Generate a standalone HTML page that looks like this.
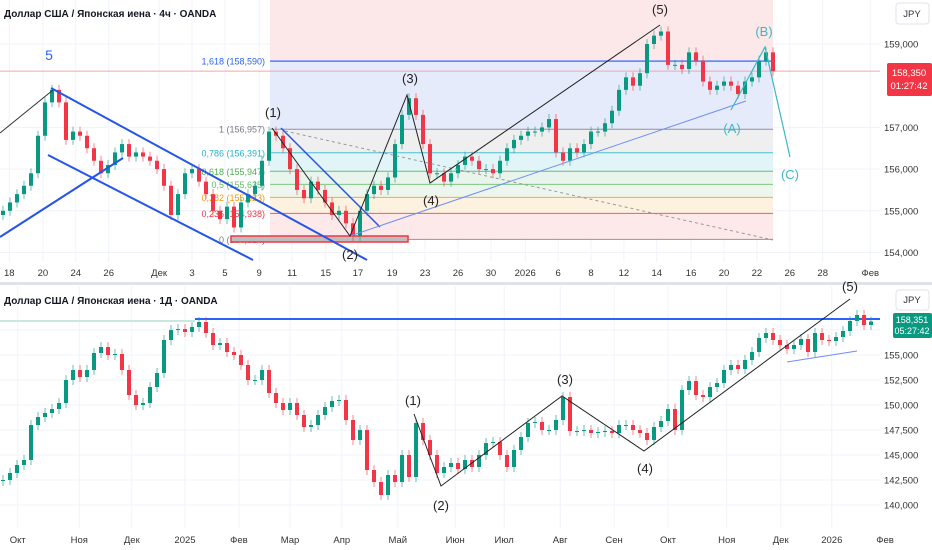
<!DOCTYPE html>
<html><head><meta charset="utf-8"><style>
body{margin:0;width:932px;height:550px;overflow:hidden;background:#fff;font-family:"Liberation Sans","Noto Sans CJK SC",sans-serif}
svg{display:block}
text{font-family:"Liberation Sans","DejaVu Sans",sans-serif}
</style></head><body>
<svg id="c" width="932" height="550"></svg>
<script>
// ---- top pane data (4h, sampled) ----
const topCloses=[155.0,155.2,155.4,155.6,155.9,156.8,157.6,157.9,157.6,156.7,156.9,156.8,156.5,156.2,155.9,156.1,156.4,156.6,156.3,156.4,156.3,156.2,156.0,155.6,154.9,155.4,155.9,156.0,155.7,155.4,155.0,154.8,155.1,154.6,155.2,155.4,155.6,156.2,156.9,156.8,156.5,156.0,155.5,155.3,155.7,155.5,155.2,154.9,155.0,154.7,154.4,155.0,155.4,155.6,155.5,155.8,156.6,157.3,157.7,157.3,156.6,155.9,155.9,155.7,155.9,156.1,156.3,156.2,156.0,156.0,155.9,156.2,156.5,156.7,156.8,156.9,156.9,157.0,157.2,156.4,156.2,156.5,156.4,156.6,156.9,156.9,157.1,157.4,157.9,158.2,158.0,158.3,159.0,159.2,159.3,158.5,158.5,158.4,158.8,158.6,158.1,157.9,158.0,158.1,158.0,157.8,158.1,158.2,158.6,158.8,158.35];
const topPriceTicks=[159,157,156,155,154];
const topPriceLabels=["159,000","157,000","156,000","155,000","154,000"];
const topTimeLabels=["18","20","24","26","Дек","3","5","9","11","15","17","19","23","26","30","2026","6","8","12","14","16","20","22","26","28","Фев"];
const topTimeIdx=[0.9,5.7,10.4,15.1,22.3,27,31.7,36.6,41.3,46.1,50.7,55.6,60.3,65,69.7,74.6,79.3,84,88.7,93.4,98.3,103,107.7,112.4,117.1,123.9];
const fibRatios=["1,618","1","0,786","0,618","0,5","0,382","0,236","0"];
const fibPrices=[158.590,156.957,156.391,155.947,155.635,155.323,154.938,154.314];
// ---- bottom pane data (daily, sampled) ----
const botCloses=[142.5,143.2,144.0,144.5,148.0,148.8,149.2,149.6,150.2,152.5,153.5,152.8,153.5,155.2,155.8,155.0,155.1,153.5,151.0,150.0,150.2,151.8,153.2,156.5,157.5,157.6,157.3,157.8,158.3,157.2,156.0,156.2,155.3,155.0,154.0,152.5,152.5,153.5,151.2,150.2,149.5,150.2,149.0,147.8,148.0,149.0,149.8,150.4,150.5,148.5,146.5,147.5,143.5,142.3,141.0,143.0,142.3,145.0,142.8,148.2,146.5,145.0,143.2,143.8,144.2,143.6,144.5,143.8,145.0,146.2,146.3,145.0,143.8,145.5,146.8,148.2,148.3,147.5,147.5,148.5,150.8,147.4,147.4,147.5,147.2,147.3,147.4,147.2,148.0,148.0,147.5,147.2,146.5,147.8,148.4,149.6,147.5,151.5,152.4,151.0,150.8,151.8,152.2,153.5,154.0,153.6,154.5,155.3,156.7,157.2,156.5,156.0,155.6,156.0,156.6,155.3,157.2,156.5,156.4,156.8,157.4,158.4,159.0,158.0,158.35];
const botPriceTicks=[155,152.5,150,147.5,145,142.5,140];
const botPriceLabels=["155,000","152,500","150,000","147,500","145,000","142,500","140,000"];
const botTimeLabels=["Окт","Ноя","Дек","2025","Фев","Мар","Апр","Май","Июн","Июл","Авг","Сен","Окт","Ноя","Дек","2026","Фев"];
const botTimeIdx=[2.1,10.9,18.4,26,33.7,41,48.4,56.4,64.6,71.6,79.6,87.3,95,103.4,111.1,118.4,126];

const NS="http://www.w3.org/2000/svg";
const svg=document.getElementById('c');
function el(tag,attrs,parent,txt){const e=document.createElementNS(NS,tag);for(const k in attrs)e.setAttribute(k,attrs[k]);if(txt!==undefined)e.textContent=txt;(parent||svg).appendChild(e);return e;}
const STEP=7;
const xi=i=>i*STEP+3;
const y1=p=>44+(159-p)*41.7;
const y2=p=>355+(155-p)*10;
const GREEN="#089981",RED="#f23645";

// ===== TOP PANE =====
const gTop=el('g',{});


// grid
topPriceTicks.forEach(p=>{const l=el('line',{x1:0,x2:880,y1:y1(p),y2:y1(p),stroke:"#f0f3fa"},gTop);});
topTimeIdx.forEach(i=>{const l=el('line',{x1:xi(i),x2:xi(i),y1:0,y2:262,stroke:"#f0f3fa"},gTop);});
// fib zones
const fx0=270,fx1=773;
const zoneFill=["#e6ebfb","#efefef","#e1f4f8","#e8f4ec","#edf6ee","#fdf1e0","#fde9ea"];
const pinkBg=el('rect',{x:fx0,y:0,width:fx1-fx0,height:y1(fibPrices[7]),fill:"#fde8e9"},gTop);

for(let k=0;k<7;k++){const r=el('rect',{x:fx0,y:y1(fibPrices[k]),width:fx1-fx0,height:y1(fibPrices[k+1])-y1(fibPrices[k]),fill:zoneFill[k]},gTop);}
const fibCol=["#2962ff","#787b86","#22b5cc","#4caf50","#66bb6a","#ff9800","#f23645","#787b86"];
fibPrices.forEach((p,k)=>{
 const l=el('line',{x1:fx0,x2:fx1,y1:y1(p),y2:y1(p),stroke:fibCol[k],"stroke-width":k===0?1.5:1,opacity:0.8},gTop);
 
 const t=el('text',{x:265,y:y1(p)+3.5,"text-anchor":"end","font-size":9,fill:fibCol[k]},gTop,fibRatios[k]+" ("+p.toFixed(3).replace('.',',')+")");
 
});
// current price line
const cpl=el('line',{x1:0,x2:880,y1:y1(158.35),y2:y1(158.35),stroke:"#f7a5ab","stroke-width":1},gTop);

// red rect at 0 level
const rr=el('rect',{x:231,y:236,width:177,height:6,fill:"#bdbdbd",stroke:"#f23645","stroke-width":1.5},gTop);

// candles
function candles(closes,yf,g,wick){
 for(let i=0;i<closes.length;i++){
  const c=closes[i],o=i>0?closes[i-1]:c-0.1;
  const up=c>=o,col=up?GREEN:RED;
  const hi=Math.max(o,c)+wick,lo=Math.min(o,c)-wick;
  const w=el('line',{x1:xi(i),x2:xi(i),y1:yf(hi),y2:yf(lo),stroke:col,"stroke-width":1,opacity:0.6},g);
  
  const top=yf(Math.max(o,c)),h=Math.max(1,yf(Math.min(o,c))-top);
  const b=el('rect',{x:xi(i)-2,y:top,width:4,height:h,fill:col},g);
  
 }
}
candles(topCloses,y1,gTop,0.12);
// drawings
function line(g,pts,col,w,name,dash){const l=el('polyline',{points:pts.map(p=>p.join(',')).join(' '),fill:"none",stroke:col,"stroke-width":w,"stroke-dasharray":dash||""},g);return l;}
function label(g,x,y,t,col,fs,name){const e=el('text',{x:x,y:y,"text-anchor":"middle","font-size":fs,fill:col},g,t);}
line(gTop,[[0,133],[53,90]],"#333",1,"trend-line");
line(gTop,[[51,88],[367,260]],"#2455e8",2,"channel-upper");
line(gTop,[[48,155],[253,260]],"#2455e8",2,"channel-lower");
line(gTop,[[0,237],[123,158]],"#2455e8",2,"channel-support");
line(gTop,[[281,128],[380,227]],"#2455e8",1.5,"wave2-channel");
line(gTop,[[285,131],[773,240]],"#999",1,"dashed-trend","3,3");
line(gTop,[[350,236],[746,101]],"#6d8ff5",1,"wave-trendline");
line(gTop,[[272,128],[350,236],[407,95],[430,183],[660,25]],"#222",1,"elliott-impulse");
line(gTop,[[731,110],[765,47],[790,157]],"#3cb8c4",1.2,"abc-correction");
label(gTop,49,60,"5","#2962ff",14,"wave-5-label");
[["(1)",273,117],["(2)",350,259],["(3)",410,83],["(4)",431,205],["(5)",660,14]].forEach(a=>label(gTop,a[1],a[2],a[0],"#222",13,"wave-label"));
[["(A)",732,133],["(B)",764,36],["(C)",790,179]].forEach(a=>label(gTop,a[1],a[2],a[0],"#3cb8c4",13,"abc-label"));
// axes
const ax1=el('rect',{x:880,y:0,width:52,height:282,fill:"#fff"},gTop);
topPriceTicks.forEach((p,k)=>{const t=el('text',{x:884,y:y1(p)+3.5,"font-size":9.5,fill:"#333"},gTop,topPriceLabels[k]);});
topTimeIdx.forEach((idx,k)=>{const t=el('text',{x:xi(idx),y:276,"text-anchor":"middle","font-size":9.5,fill:"#333"},gTop,topTimeLabels[k]);});
const tag1=el('rect',{x:887,y:63,width:45,height:33,fill:"#f23645",rx:2},gTop);
el('text',{x:909,y:76,"text-anchor":"middle","font-size":9.5,fill:"#fff"},gTop,"158,350");
el('text',{x:909,y:89,"text-anchor":"middle","font-size":9.5,fill:"#fff"},gTop,"01:27:42");
const jpy1=el('rect',{x:896,y:3,width:33,height:21,fill:"#fff",stroke:"#e0e3eb",rx:3},gTop);
el('text',{x:912,y:17,"text-anchor":"middle","font-size":9.5,fill:"#333"},gTop,"JPY");
const tt1=el('text',{x:4,y:17,"font-size":10,"font-weight":"bold",fill:"#131722"},gTop,"Доллар США / Японская иена · 4ч · OANDA");


// separator
const sep=el('rect',{x:0,y:282,width:932,height:3,fill:"#e0e3eb"});

// ===== BOTTOM PANE =====
const gBot=el('g',{});


botPriceTicks.concat([157.5]).forEach(p=>{const l=el('line',{x1:0,x2:880,y1:y2(p),y2:y2(p),stroke:"#f0f3fa"},gBot);});
botTimeIdx.forEach(i=>{const l=el('line',{x1:xi(i),x2:xi(i),y1:286,y2:528,stroke:"#f0f3fa"},gBot);});
line(gBot,[[0,321],[195,321]],"#c9e6e0",2,"resistance-line-faint");
line(gBot,[[195,319],[932,319]],"#2962ff",2,"resistance-line");
candles(botCloses,y2,gBot,0.5);
line(gBot,[[414,414],[441,486],[562,396],[644,451],[850,299]],"#222",1,"elliott-impulse-daily");
line(gBot,[[787,362],[857,351]],"#6d8ff5",1,"wave-trendline-daily");
[["(1)",413,405],["(2)",441,510],["(3)",565,384],["(4)",645,473],["(5)",850,291]].forEach(a=>label(gBot,a[1],a[2],a[0],"#222",13,"wave-label"));
const ax2=el('rect',{x:880,y:286,width:52,height:264,fill:"#fff"},gBot);
botPriceTicks.forEach((p,k)=>{const t=el('text',{x:884,y:y2(p)+3.5,"font-size":9.5,fill:"#333"},gBot,botPriceLabels[k]);});
botTimeIdx.forEach((idx,k)=>{const t=el('text',{x:xi(idx),y:543,"text-anchor":"middle","font-size":9.5,fill:"#333"},gBot,botTimeLabels[k]);});
const tag2=el('rect',{x:893,y:313,width:39,height:25,fill:"#089981",rx:2},gBot);
el('text',{x:912,y:323,"text-anchor":"middle","font-size":9,fill:"#fff"},gBot,"158,351");
el('text',{x:912,y:334,"text-anchor":"middle","font-size":9,fill:"#fff"},gBot,"05:27:42");
const jpy2=el('rect',{x:896,y:290,width:33,height:20,fill:"#fff",stroke:"#e0e3eb",rx:3},gBot);
el('text',{x:912,y:303,"text-anchor":"middle","font-size":9.5,fill:"#333"},gBot,"JPY");
const tt2=el('text',{x:4,y:304,"font-size":10,"font-weight":"bold",fill:"#131722"},gBot,"Доллар США / Японская иена · 1Д · OANDA");

</script>
</body></html>
